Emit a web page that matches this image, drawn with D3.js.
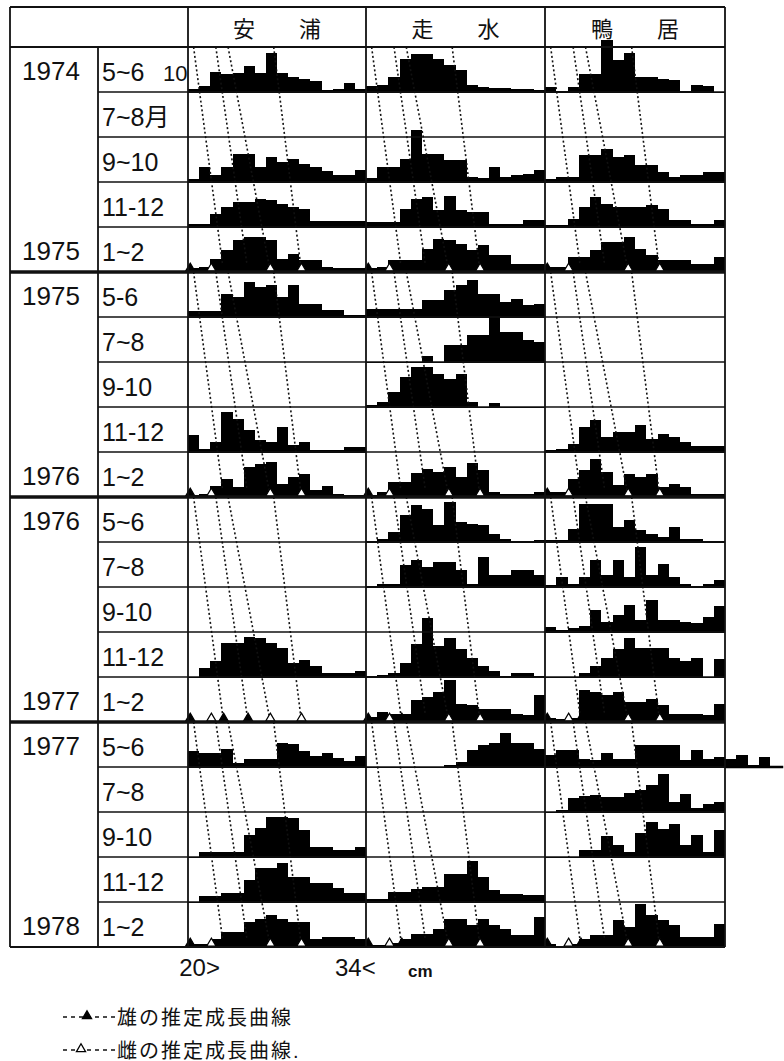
<!DOCTYPE html>
<html>
<head>
<meta charset="utf-8">
<script src="https://cdn.jsdelivr.net/npm/d3@7"></script>
<style>
  body { margin: 0; background: #fff; }
  svg { display: block; }
  text { font-family: "Liberation Sans", "Noto Sans CJK JP", sans-serif; fill: #111; }
</style>
</head>
<body>
<div id="chart"></div>
<script>
// ------------------------------------------------------------------
// Data

// column headers (sites)
const sites = [['安', '浦'], ['走', '水'], ['鴨', '居']];

// row labels
const yearRows = [0, 4, 5, 9, 10, 14, 15, 19];
const years = ['1974', '1975', '1975', '1976', '1976', '1977', '1977', '1978'];
const months = [
    '5~6', '7~8月', '9~10', '11-12', '1~2',
    '5-6', '7~8', '9-10', '11-12', '1~2',
    '5~6', '7~8', '9-10', '11-12', '1~2',
    '5~6', '7~8', '9-10', '11-12', '1~2',
];

// length classes: 20cm and below ... 34cm and above
const lengthTicks = [20, 34];
const tickLabels = ['20>', '34<'];

// frequencies per 1cm class, one array per row (empty = no sample)
const yasuura = [
    [3, 6, 20, 18, 19, 26, 19, 39, 19, 15, 13, 11, 2, 3, 9, 3],
    [],
    [3, 15, 7, 15, 28, 28, 15, 25, 20, 23, 18, 15, 11, 7, 7, 12],
    [3, 3, 13, 20, 25, 25, 28, 27, 23, 20, 18, 6, 6, 6, 6, 6],
    [4, 5, 13, 22, 32, 35, 35, 32, 13, 18, 12, 12, 5, 4, 4, 4],
    [6, 6, 6, 23, 20, 35, 30, 32, 20, 32, 13, 13, 7, 7, 2, 2],
    [],
    [],
    [17, 3, 10, 40, 33, 22, 12, 10, 25, 7, 10, 2, 2, 2, 5, 5],
    [2, 3, 11, 18, 10, 30, 33, 35, 13, 20, 23, 7, 11, 3, 2, 2],
    [],
    [],
    [],
    [0, 9, 16, 34, 34, 40, 39, 34, 29, 14, 17, 11, 4, 4, 4, 6],
    [],
    [16, 14, 14, 18, 4, 8, 8, 8, 24, 23, 16, 11, 14, 9, 6, 11],
    [],
    [0, 5, 5, 5, 5, 22, 29, 40, 40, 39, 27, 10, 10, 7, 7, 10],
    [0, 6, 6, 9, 9, 22, 34, 34, 39, 25, 25, 19, 19, 14, 9, 9],
    [3, 3, 8, 15, 15, 25, 28, 32, 28, 25, 25, 8, 10, 10, 10, 8],
];

const hashirimizu = [
    [6, 7, 15, 33, 38, 38, 33, 27, 22, 7, 5, 4, 4, 3, 3, 2],
    [],
    [4, 15, 15, 23, 52, 28, 28, 22, 22, 5, 4, 15, 5, 7, 8, 12],
    [5, 5, 5, 18, 28, 30, 17, 31, 17, 15, 15, 3, 3, 3, 7, 7],
    [4, 5, 12, 12, 12, 23, 33, 32, 28, 22, 27, 17, 17, 8, 8, 8],
    [8, 8, 8, 8, 8, 17, 17, 27, 32, 37, 23, 23, 15, 18, 12, 13],
    [0, 0, 0, 0, 0, 6, 0, 17, 17, 27, 27, 45, 30, 30, 22, 20],
    [2, 5, 15, 30, 40, 40, 33, 28, 33, 5, 0, 4, 0, 0, 0, 0],
    [],
    [2, 5, 15, 15, 24, 28, 25, 30, 20, 34, 27, 5, 3, 3, 3, 5],
    [1, 3, 10, 27, 37, 33, 17, 40, 20, 18, 17, 8, 3, 1, 1, 2],
    [1, 3, 3, 22, 27, 20, 25, 25, 17, 3, 30, 12, 12, 17, 17, 12],
    [],
    [1, 2, 4, 14, 33, 59, 31, 39, 28, 19, 11, 6, 1, 4, 4, 1],
    [5, 10, 8, 8, 22, 25, 30, 42, 18, 17, 13, 13, 13, 8, 7, 27],
    [0, 0, 0, 0, 0, 0, 0, 2, 5, 17, 22, 24, 34, 24, 24, 18],
    [],
    [],
    [3, 3, 10, 10, 13, 15, 15, 28, 28, 41, 25, 12, 8, 8, 7, 7],
    [2, 2, 4, 8, 13, 13, 18, 28, 28, 22, 28, 22, 18, 12, 12, 30],
];

const kamoi = [
    [5, 1, 5, 18, 18, 52, 32, 39, 15, 15, 13, 12, 1, 7, 6, 0],
    [],
    [3, 5, 5, 27, 27, 33, 25, 27, 17, 17, 10, 5, 7, 7, 10, 10],
    [2, 2, 8, 20, 30, 23, 20, 20, 20, 22, 18, 7, 7, 3, 3, 7],
    [5, 5, 15, 15, 22, 30, 30, 35, 23, 17, 12, 12, 12, 8, 8, 15],
    [],
    [],
    [],
    [2, 3, 8, 25, 32, 15, 20, 20, 27, 13, 18, 15, 10, 6, 6, 6],
    [5, 5, 18, 27, 38, 25, 12, 23, 20, 23, 10, 13, 10, 3, 3, 3],
    [2, 2, 13, 38, 38, 38, 15, 22, 12, 8, 5, 15, 3, 3, 1, 1],
    [2, 10, 3, 10, 27, 12, 27, 10, 40, 12, 23, 10, 3, 1, 3, 7],
    [5, 2, 4, 6, 22, 10, 17, 27, 12, 32, 12, 12, 10, 9, 15, 26],
    [0, 0, 0, 4, 11, 19, 28, 39, 29, 29, 29, 19, 16, 19, 0, 18],
    [4, 3, 4, 32, 30, 27, 30, 20, 20, 23, 17, 8, 8, 8, 7, 18],
    [12, 17, 17, 8, 7, 14, 8, 8, 22, 22, 22, 22, 7, 17, 8, 10, 8, 12, 2, 10, 1],
    [0, 2, 14, 16, 17, 15, 15, 19, 22, 27, 38, 10, 18, 4, 8, 10],
    [0, 0, 0, 7, 7, 21, 12, 5, 24, 35, 28, 33, 12, 22, 5, 27],
    [],
    [3, 0, 3, 8, 12, 12, 27, 20, 43, 32, 27, 22, 10, 10, 10, 23],
];

// estimated growth curves (cm at start / end of each year block)
const curveStart = [19.5, 21.5, 22.6, 26.7];
const curveEnd = [22.2, 24.4, 26.4, 29.2];

// growth curve markers on the 1~2 rows (filled = male, open = female)
const markerCm = [19.2, 21.1, 22.2, 24.4, 26.4, 29.2];
const markerFilled = [true, false, true, true, false, false];

const legendFilled = [true, false];
const legendLabels = ['雄の推定成長曲線', '雌の推定成長曲線.'];

// ------------------------------------------------------------------
// Layout

const width = 784;
const height = 1061;
const tableLeft = 10;
const tableTop = 7;
const yearRight = 98;
const colEdges = [188, 366, 545, 725];
const headerBottom = 47;
const rowH = 45;
const nRows = months.length;
const blockRows = 5;

const svg = d3.select('#chart')
    .append('svg')
    .attr('width', width)
    .attr('height', height);

const y = d3.scaleLinear()
    .domain([0, nRows])
    .range([headerBottom, headerBottom + nRows * rowH]);

const xs = sites.map((s, i) => d3.scaleLinear()
    .domain([19, 35])
    .range([colEdges[i], colEdges[i + 1]]));

const h = d3.scaleLinear().domain([0, 45]).range([0, rowH]);

const series = [yasuura, hashirimizu, kamoi];
const tableBottom = y(nRows);

// histograms, drawn as step areas so the bars join without seams
series.forEach((rows, c) => {
    const g = svg.append('g');
    rows.forEach((vals, r) => {
        if (!vals.length) return;
        const base = y(r + 1);
        const pts = vals.concat([vals[vals.length - 1]]);
        const area = d3.area()
            .curve(d3.curveStepAfter)
            .x((d, i) => xs[c](19 + i))
            .y0(base + 1)
            .y1(d => base - h(d));
        g.append('path')
            .attr('d', area(pts))
            .attr('fill', '#000')
            .attr('shape-rendering', 'crispEdges');
        // baseline for bars running past the table edge
        if (vals.length > 16) {
            g.append('line')
                .attr('x1', xs[c](35)).attr('x2', xs[c](19 + vals.length) + 2)
                .attr('y1', base).attr('y2', base)
                .attr('stroke', '#000').attr('stroke-width', 2.5);
        }
    });
});

// growth curves
const blocks = d3.range(nRows / blockRows);
const curveG = svg.append('g')
    .attr('fill', 'none')
    .attr('stroke', '#111')
    .attr('stroke-width', 1.6)
    .attr('stroke-dasharray', '2,2.5');
xs.forEach(x => {
    blocks.forEach(b => {
        curveStart.forEach((c0, k) => {
            curveG.append('path')
                .attr('d', d3.line()([
                    [x(c0), y(b * blockRows)],
                    [x(curveEnd[k]), y(b * blockRows + blockRows)],
                ]));
        });
    });
});

// markers on 1~2 rows
const tri = d3.symbol(d3.symbolTriangle, 36);
const triOff = Math.sqrt(36 / (Math.sqrt(3) * 3));
xs.forEach(x => {
    blocks.forEach(b => {
        const base = y(b * blockRows + blockRows) - 1;
        svg.append('g').selectAll('path')
            .data(markerCm)
            .enter()
            .append('path')
            .attr('d', tri)
            .attr('transform', d => `translate(${x(d)},${base - triOff})`)
            .attr('fill', (d, i) => markerFilled[i] ? '#000' : '#fff')
            .attr('stroke', '#000')
            .attr('stroke-width', 1.2);
    });
});

// table lines
const lines = svg.append('g').attr('stroke', '#111').attr('stroke-width', 1.8);
const hline = (x1, x2, yy, w) => lines.append('line')
    .attr('x1', x1).attr('x2', x2).attr('y1', yy).attr('y2', yy)
    .attr('stroke-width', w || 1.8);
const vline = (xx, y1, y2) => lines.append('line')
    .attr('x1', xx).attr('x2', xx).attr('y1', y1).attr('y2', y2);

hline(tableLeft, colEdges[3], tableTop);
hline(tableLeft, colEdges[3], headerBottom);
d3.range(1, nRows).forEach(r => {
    if (r % blockRows === 0) {
        hline(tableLeft, colEdges[3], y(r), 3.4);
    } else {
        hline(yearRight, colEdges[3], y(r), 1.6);
    }
});
hline(tableLeft, colEdges[3], tableBottom, 2.2);
vline(tableLeft, tableTop, tableBottom);
vline(yearRight, headerBottom, tableBottom);
colEdges.forEach(cx => vline(cx, tableTop, tableBottom));

// column headers
sites.forEach((chars, i) => {
    const cx = (colEdges[i] + colEdges[i + 1]) / 2;
    svg.append('g').selectAll('text')
        .data(chars)
        .enter()
        .append('text')
        .attr('x', (d, k) => cx + (k === 0 ? -33 : 33))
        .attr('y', 37)
        .attr('text-anchor', 'middle')
        .attr('font-family', '"Noto Sans CJK JP", sans-serif')
        .attr('font-size', 22)
        .text(d => d);
});

// year labels
svg.append('g').selectAll('text')
    .data(years)
    .enter()
    .append('text')
    .attr('x', 22)
    .attr('y', (d, i) => y(yearRows[i]) + 33)
    .attr('font-size', 26)
    .text(d => d);

// month labels
svg.append('g').selectAll('text')
    .data(months)
    .enter()
    .append('text')
    .attr('x', 102)
    .attr('y', (d, i) => y(i) + 34)
    .attr('font-size', 25)
    .text(d => d);

// scale note in the first row
svg.append('text')
    .attr('x', 163)
    .attr('y', y(0) + 34)
    .attr('font-size', 22)
    .text('10');

// length axis below the first site column
const axisG = svg.append('g')
    .attr('transform', `translate(0,${tableBottom})`)
    .call(d3.axisBottom(xs[0])
        .tickValues(lengthTicks)
        .tickFormat((d, i) => tickLabels[i])
        .tickSize(0)
        .tickPadding(12))
    .attr('font-size', 24)
    .attr('font-family', '"Liberation Sans", sans-serif');
axisG.select('.domain').remove();
axisG.selectAll('text').attr('fill', '#111');

svg.append('text')
    .attr('x', 408)
    .attr('y', tableBottom + 30)
    .attr('font-size', 17)
    .attr('font-weight', 'bold')
    .text('cm');

// legend
const legend = svg.append('g')
    .selectAll('g')
    .data(legendLabels)
    .enter()
    .append('g')
    .attr('transform', (d, i) => `translate(63,${1017 + i * 33})`);

legend.append('line')
    .attr('x1', 0).attr('x2', 52)
    .attr('y1', 0).attr('y2', 0)
    .attr('stroke', '#111')
    .attr('stroke-width', 1.4)
    .attr('stroke-dasharray', '4,4');

legend.append('path')
    .attr('d', tri)
    .attr('transform', (d, i) => `translate(${legendFilled[i] ? 24 : 18},${-1})`)
    .attr('fill', (d, i) => legendFilled[i] ? '#000' : '#fff')
    .attr('stroke', '#000')
    .attr('stroke-width', 1.3);

legend.append('text')
    .attr('x', 54)
    .attr('y', 8)
    .attr('font-family', '"Noto Sans CJK JP", sans-serif')
    .attr('font-size', 20)
    .attr('letter-spacing', 2)
    .text(d => d);
</script>
</body>
</html>
